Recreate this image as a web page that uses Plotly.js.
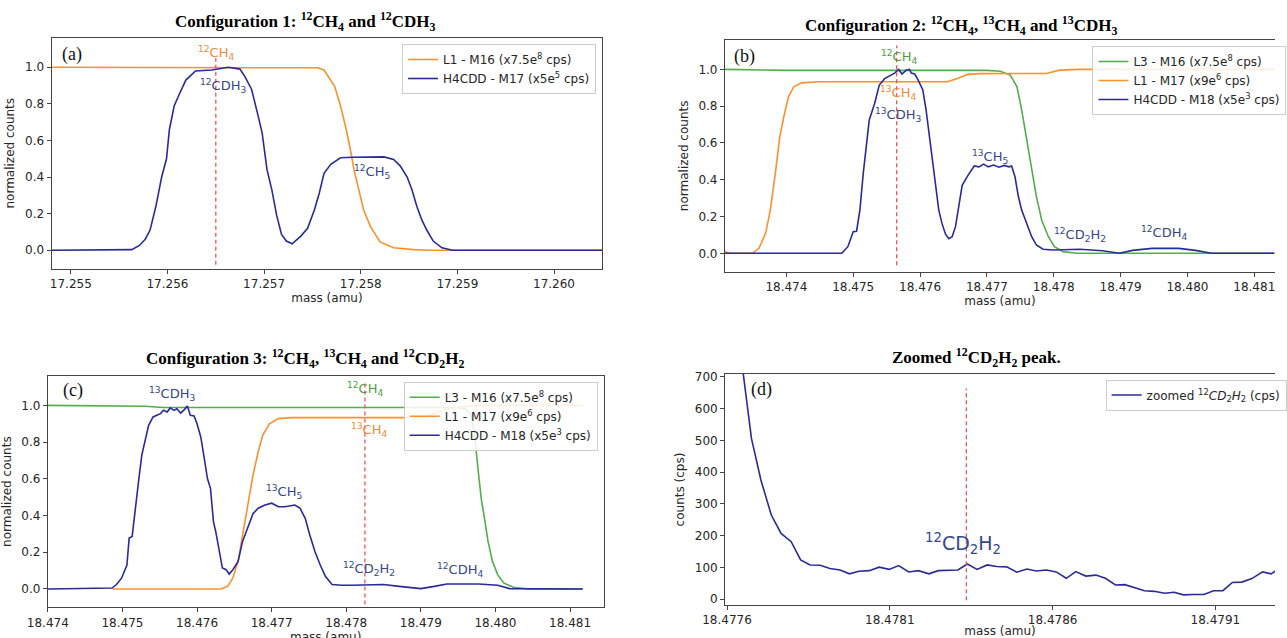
<!DOCTYPE html>
<html>
<head>
<meta charset="utf-8">
<script src="https://cdn.plot.ly/plotly-3.0.1.min.js"></script>
<style>html,body{margin:0;padding:0;background:#fff;}#chart{width:1287px;height:638px;}</style>
</head>
<body>
<div id="chart"></div>
<script>
// ---------- Panel (a): Configuration 1 ----------
const a_mass_L1 = [17.2548, 17.2575, 17.25755, 17.25762, 17.25768, 17.25773, 17.25779, 17.25785, 17.2579, 17.25793, 17.25798, 17.25803, 17.2581, 17.2582, 17.25834, 17.25855, 17.2587, 17.2605];
const a_L1 = [1.0, 1.0, 0.997, 0.985, 0.94, 0.896, 0.79, 0.66, 0.53, 0.44, 0.33, 0.22, 0.13, 0.045, 0.013, 0.003, 0.0, 0.0];
const a_mass_H4 = [17.2548, 17.2555, 17.25563, 17.25571, 17.25577, 17.25582, 17.25588, 17.25594, 17.25599, 17.25602, 17.25607, 17.25612, 17.25619, 17.25629, 17.25646, 17.25663, 17.25675, 17.2568, 17.25687, 17.25694, 17.25698, 17.25703, 17.25708, 17.25713, 17.25718, 17.25723, 17.25729, 17.25738, 17.25745, 17.25752, 17.25757, 17.25762, 17.25769, 17.25779, 17.25792, 17.25824, 17.25834, 17.25841, 17.25848, 17.25853, 17.25858, 17.25863, 17.25868, 17.25875, 17.25884, 17.25895, 17.2605];
const a_H4 = [0, 0, 0.003, 0.026, 0.06, 0.11, 0.24, 0.40, 0.50, 0.66, 0.79, 0.85, 0.93, 0.98, 0.985, 1.0, 0.99, 0.95, 0.88, 0.73, 0.64, 0.44, 0.33, 0.19, 0.086, 0.05, 0.035, 0.077, 0.12, 0.22, 0.31, 0.42, 0.47, 0.505, 0.508, 0.51, 0.496, 0.46, 0.40, 0.33, 0.24, 0.168, 0.113, 0.05, 0.013, 0.0, 0.0];
const a_refMass = 17.2565;
const a_refSpan = [-0.08, 1.05];

// ---------- Panel (b): Configuration 2 ----------
const b_mass_L3 = [18.47308, 18.4736, 18.4740, 18.4770, 18.4772, 18.47735, 18.47745, 18.47752, 18.4776, 18.47767, 18.47774, 18.47782, 18.47792, 18.47801, 18.47814, 18.47834, 18.4813];
const b_L3 = [1.0, 0.997, 0.995, 0.995, 0.99, 0.969, 0.905, 0.78, 0.616, 0.453, 0.31, 0.18, 0.09, 0.036, 0.009, 0.0, 0.0];
const b_mass_L1 = [18.47308, 18.47315, 18.47349, 18.47359, 18.47369, 18.47376, 18.47384, 18.4739, 18.47396, 18.47403, 18.47411, 18.47423, 18.47448, 18.47641, 18.47656, 18.47671, 18.4769, 18.47789, 18.47809, 18.47839, 18.4813];
const b_L1 = [0.01, 0.0, 0.0, 0.027, 0.11, 0.235, 0.45, 0.63, 0.74, 0.85, 0.905, 0.927, 0.933, 0.933, 0.951, 0.973, 0.977, 0.978, 0.996, 1.0, 1.0];
const b_mass_H4 = [18.47308, 18.47483, 18.47492, 18.475, 18.47505, 18.4751, 18.47515, 18.4752, 18.47524, 18.47532, 18.47539, 18.47547, 18.47554, 18.47562, 18.47568, 18.47573, 18.47579, 18.47584, 18.47587, 18.47592, 18.47596, 18.47604, 18.47609, 18.47614, 18.47619, 18.47623, 18.47628, 18.47633, 18.47638, 18.47643, 18.47648, 18.47653, 18.47658, 18.47663, 18.47671, 18.47681, 18.47688, 18.47695, 18.47702, 18.4771, 18.47718, 18.47726, 18.47733, 18.47737, 18.47742, 18.47747, 18.47752, 18.4776, 18.47767, 18.47774, 18.47784, 18.47799, 18.47839, 18.47873, 18.47898, 18.47918, 18.47947, 18.47987, 18.48012, 18.48036, 18.4813];
const b_H4 = [0, 0, 0.036, 0.117, 0.12, 0.235, 0.435, 0.6, 0.725, 0.815, 0.915, 0.95, 0.965, 0.98, 1.0, 0.975, 0.995, 1.0, 0.98, 0.975, 0.95, 0.89, 0.78, 0.63, 0.49, 0.37, 0.235, 0.16, 0.105, 0.08, 0.09, 0.145, 0.26, 0.37, 0.42, 0.475, 0.47, 0.485, 0.47, 0.48, 0.468, 0.478, 0.47, 0.475, 0.416, 0.31, 0.235, 0.163, 0.09, 0.045, 0.022, 0.018, 0.022, 0.014, 0.0, 0.016, 0.027, 0.027, 0.016, 0.0, 0.0];
const b_refMass = 18.47565;
const b_refSpan = [-0.065, 1.13];

// ---------- Panel (c): Configuration 3 ----------
const c_mass_L3 = [18.474, 18.475, 18.4753, 18.47555, 18.4795, 18.4796, 18.47965, 18.47969, 18.47973, 18.47977, 18.47981, 18.47986, 18.4799, 18.47996, 18.48003, 18.48011, 18.48024, 18.48045, 18.48117];
const c_L3 = [1.0, 0.999, 0.995, 0.988, 0.988, 0.98, 0.96, 0.928, 0.80, 0.64, 0.49, 0.367, 0.26, 0.15, 0.078, 0.033, 0.009, 0.0, 0.0];
const c_mass_L1 = [18.47487, 18.47632, 18.47641, 18.47648, 18.47655, 18.47661, 18.47668, 18.47675, 18.47682, 18.47688, 18.47697, 18.47709, 18.47727, 18.47905, 18.47918, 18.47931, 18.47952, 18.4798, 18.48117];
const c_L1 = [0, 0, 0.014, 0.06, 0.15, 0.295, 0.44, 0.62, 0.747, 0.837, 0.90, 0.928, 0.933, 0.933, 0.955, 0.978, 0.99, 1.0, 1.0];
const c_mass_H4 = [18.474, 18.47486, 18.47492, 18.47499, 18.47506, 18.47509, 18.47513, 18.47517, 18.47522, 18.47526, 18.47531, 18.47535, 18.47541, 18.47546, 18.47551, 18.47555, 18.4756, 18.47564, 18.47569, 18.47573, 18.47578, 18.47582, 18.47587, 18.47591, 18.47596, 18.476, 18.47605, 18.47609, 18.47614, 18.47618, 18.47622, 18.47625, 18.4763, 18.47634, 18.47639, 18.47643, 18.47648, 18.47655, 18.47661, 18.47668, 18.47675, 18.47682, 18.47691, 18.477, 18.47709, 18.47718, 18.47731, 18.47738, 18.47745, 18.47751, 18.47758, 18.47765, 18.47772, 18.47781, 18.47794, 18.47808, 18.4785, 18.47871, 18.479, 18.47918, 18.47935, 18.47977, 18.48003, 18.48019, 18.48117];
const c_H4 = [0, 0.005, 0.024, 0.06, 0.13, 0.277, 0.286, 0.44, 0.60, 0.73, 0.82, 0.89, 0.937, 0.946, 0.955, 0.973, 0.964, 0.986, 0.973, 0.982, 0.958, 0.973, 0.996, 0.946, 0.942, 0.90, 0.828, 0.729, 0.60, 0.548, 0.367, 0.313, 0.204, 0.114, 0.105, 0.081, 0.105, 0.15, 0.259, 0.34, 0.41, 0.44, 0.457, 0.467, 0.448, 0.448, 0.457, 0.44, 0.385, 0.295, 0.204, 0.132, 0.069, 0.024, 0.02, 0.02, 0.024, 0.014, 0.002, 0.014, 0.027, 0.027, 0.02, 0.002, 0];
const c_refMass = 18.47825;
const c_refSpan = [-0.085, 1.12];

// ---------- Panel (d): zoomed 12CD2H2 ----------
const d_mass = [18.47762, 18.477675, 18.477704, 18.477736, 18.477766, 18.477797, 18.477826, 18.477855, 18.477886, 18.477916, 18.477947, 18.477976, 18.478005, 18.478037, 18.478067, 18.478098, 18.478127, 18.478158, 18.478188, 18.47822, 18.478249, 18.478278, 18.478309, 18.478338, 18.478368, 18.478399, 18.478428, 18.478459, 18.47849, 18.478521, 18.47855, 18.478581, 18.478611, 18.478642, 18.478671, 18.478702, 18.478733, 18.478762, 18.478793, 18.478822, 18.478853, 18.478882, 18.478912, 18.478944, 18.478973, 18.479002, 18.479033, 18.479065, 18.479094, 18.479123, 18.479152, 18.479181, 18.479212, 18.479245, 18.479271, 18.4793];
const d_cps = [950, 506, 375, 265, 207, 181, 124, 108, 107, 97, 92, 80, 88, 90, 101, 94, 106, 86, 90, 80, 90, 90, 92, 111, 94, 108, 103, 102, 85, 95, 89, 92, 86, 66, 87, 73, 76, 66, 45, 46, 35, 27, 25, 19, 22, 14, 15, 15, 27, 27, 53, 54, 65, 86, 80, 100];
const d_refMass = 18.478335;
const d_refSpan = [-3, 663];

// ---------- legend labels ----------
const a_names = ['L1 - M16 (x7.5e<sup>8</sup> cps)', 'H4CDD - M17 (x5e<sup>5</sup> cps)'];
const bc_names = ['L3 - M16 (x7.5e<sup>8</sup> cps)', 'L1 - M17 (x9e<sup>6</sup> cps)', 'H4CDD - M18 (x5e<sup>3</sup> cps)'];
const d_name = 'zoomed <sup>12</sup><i>CD</i><sub>2</sub><i>H</i><sub>2</sub> (cps)';

// ---------- styling ----------
const ORANGE = '#f8922e', BLUE = '#2a2a9a', GREEN = '#52ad4c', RED = '#f05555';
const TXT_BLUE = '#34478a', TXT_OR = '#f08a3a', TXT_GR = '#4f9e42';
const W = 1287, H = 638;
const px = v => v / W, py = v => 1 - v / H;

function line(x, y, color, name, xa, ya, leg) {
  return {type: 'scatter', mode: 'lines', x: x, y: y, name: name, xaxis: xa, yaxis: ya,
          legend: leg, line: {color: color, width: 1.6}, hoverinfo: 'skip'};
}
const traces = [
  line(a_mass_L1, a_L1, ORANGE, a_names[0], 'x', 'y', 'legend'),
  line(a_mass_H4, a_H4, BLUE, a_names[1], 'x', 'y', 'legend'),
  line(b_mass_L3, b_L3, GREEN, bc_names[0], 'x2', 'y2', 'legend2'),
  line(b_mass_L1, b_L1, ORANGE, bc_names[1], 'x2', 'y2', 'legend2'),
  line(b_mass_H4, b_H4, BLUE, bc_names[2], 'x2', 'y2', 'legend2'),
  line(c_mass_L3, c_L3, GREEN, bc_names[0], 'x3', 'y3', 'legend3'),
  line(c_mass_L1, c_L1, ORANGE, bc_names[1], 'x3', 'y3', 'legend3'),
  line(c_mass_H4, c_H4, BLUE, bc_names[2], 'x3', 'y3', 'legend3'),
  line(d_mass, d_cps, BLUE, d_name, 'x4', 'y4', 'legend4')
];

const FONT = 'DejaVu Sans';
const axBase = {showline: true, linecolor: '#444', linewidth: 1, ticks: 'outside', ticklen: 4,
  tickwidth: 1, tickcolor: '#444', showgrid: false, zeroline: false, automargin: false,
  tickfont: {family: FONT, size: 12, color: '#262626'}};
const AXT_FONT = {family: FONT, size: 12, color: '#262626'};
function xTitle(s) { return {text: 'mass (amu)', font: AXT_FONT, standoff: s}; }
function yTitle(t) { return {text: t, font: AXT_FONT, standoff: 7}; }

function legendAt(x, y, xanchor) {
  return {x: x, y: y, xanchor: xanchor, yanchor: 'top', bgcolor: 'rgba(255,255,255,0.85)',
          bordercolor: '#cccccc', borderwidth: 1, font: {family: FONT, size: 12, color: '#262626'},
          tracegroupgap: 0, itemwidth: 30};
}

function refLine(xa, ya, m, span) {
  return {type: 'line', xref: xa, yref: ya, x0: m, x1: m, y0: span[0], y1: span[1],
          line: {color: RED, width: 1.3, dash: '4px,3px'}};
}

function lab(xa, ya, x, y, text, color, size) {
  return {xref: xa, yref: ya, x: x, y: y, text: text, showarrow: false,
          font: {family: FONT, size: size || 13, color: color}};
}
function paperText(x, y, text, font, yanchor) {
  return {xref: 'paper', yref: 'paper', x: px(x), y: py(y), text: text, showarrow: false,
          xanchor: 'center', yanchor: yanchor || 'middle', font: font};
}
const TITLE_FONT = {family: 'Liberation Serif', size: 17, color: '#000'};
const PANEL_FONT = {family: 'Liberation Serif', size: 18, color: '#111'};

const annotations = [
  paperText(308, 21.7, '<b>Configuration 1: <sup>12</sup>CH<sub>4</sub> and <sup>12</sup>CDH<sub>3</sub></b>', TITLE_FONT),
  paperText(970, 25, '<b>Configuration 2: <sup>12</sup>CH<sub>4</sub>, <sup>13</sup>CH<sub>4</sub> and <sup>13</sup>CDH<sub>3</sub></b>', TITLE_FONT),
  paperText(308, 358, '<b>Configuration 3: <sup>12</sup>CH<sub>4</sub>, <sup>13</sup>CH<sub>4</sub> and <sup>12</sup>CD<sub>2</sub>H<sub>2</sub></b>', TITLE_FONT),
  paperText(986, 357.3, '<b>Zoomed <sup>12</sup>CD<sub>2</sub>H<sub>2</sub> peak.</b>', TITLE_FONT),
  paperText(73, 54, '(a)', PANEL_FONT),
  paperText(752, 56, '(b)', PANEL_FONT),
  paperText(73.3, 390, '(c)', PANEL_FONT),
  paperText(769, 389, '(d)', PANEL_FONT),
  // x-axis title of panel (c), sitting at the bottom edge as in the reference
  paperText(329, 627.5, 'mass (amu)', AXT_FONT, 'top'),
  // panel a labels
  lab('x', 'y', 17.2565, 1.08, '<sup>12</sup>CH<sub>4</sub>', TXT_OR),
  lab('x', 'y', 17.25657, 0.896, '<sup>12</sup>CDH<sub>3</sub>', TXT_BLUE),
  lab('x', 'y', 17.25812, 0.43, '<sup>12</sup>CH<sub>5</sub>', TXT_BLUE),
  // panel b labels
  lab('x2', 'y2', 18.47569, 1.07, '<sup>12</sup>CH<sub>4</sub>', TXT_GR),
  lab('x2', 'y2', 18.47567, 0.87, '<sup>13</sup>CH<sub>4</sub>', TXT_OR),
  lab('x2', 'y2', 18.47567, 0.75, '<sup>13</sup>CDH<sub>3</sub>', TXT_BLUE),
  lab('x2', 'y2', 18.47704, 0.525, '<sup>13</sup>CH<sub>5</sub>', TXT_BLUE),
  lab('x2', 'y2', 18.47839, 0.10, '<sup>12</sup>CD<sub>2</sub>H<sub>2</sub>', TXT_BLUE),
  lab('x2', 'y2', 18.47965, 0.109, '<sup>12</sup>CDH<sub>4</sub>', TXT_BLUE),
  // panel c labels
  lab('x3', 'y3', 18.47567, 1.063, '<sup>13</sup>CDH<sub>3</sub>', TXT_BLUE),
  lab('x3', 'y3', 18.47716, 0.53, '<sup>13</sup>CH<sub>5</sub>', TXT_BLUE),
  lab('x3', 'y3', 18.47825, 1.09, '<sup>12</sup>CH<sub>4</sub>', TXT_GR),
  lab('x3', 'y3', 18.4783, 0.864, '<sup>13</sup>CH<sub>4</sub>', TXT_OR),
  lab('x3', 'y3', 18.4783, 0.106, '<sup>12</sup>CD<sub>2</sub>H<sub>2</sub>', TXT_BLUE),
  lab('x3', 'y3', 18.47953, 0.105, '<sup>12</sup>CDH<sub>4</sub>', TXT_BLUE),
  // panel d label
  lab('x4', 'y4', 18.478324, 176, '<sup>12</sup>CD<sub>2</sub>H<sub>2</sub>', TXT_BLUE, 19)
];

const layout = {
  width: W, height: H, margin: {l: 0, r: 0, t: 0, b: 0},
  paper_bgcolor: '#fff', plot_bgcolor: '#fff', showlegend: true,
  font: {family: FONT, size: 12, color: '#262626'},
  xaxis: Object.assign({}, axBase, {domain: [px(52), px(608)], range: [17.2548, 17.2605], tick0: 17.255, dtick: 0.001, tickformat: '.3f', anchor: 'y', mirror: true, title: xTitle(3)}),
  yaxis: Object.assign({}, axBase, {domain: [py(268.5), py(38)], range: [-0.1, 1.16], tick0: 0, dtick: 0.2, tickformat: '.1f', anchor: 'x', mirror: true, title: yTitle('normalized counts')}),
  xaxis2: Object.assign({}, axBase, {domain: [px(731.7), 1], range: [18.47308, 18.48131], tick0: 18.474, dtick: 0.001, tickformat: '.3f', anchor: 'y2', mirror: true, title: xTitle(3)}),
  yaxis2: Object.assign({}, axBase, {domain: [py(271.7), py(40)], range: [-0.1, 1.16], tick0: 0, dtick: 0.2, tickformat: '.1f', anchor: 'x2', mirror: false, title: yTitle('normalized counts')}),
  xaxis3: Object.assign({}, axBase, {domain: [px(48.3), px(609.3)], range: [18.474, 18.48145], tick0: 18.474, dtick: 0.001, tickformat: '.3f', anchor: 'y3', mirror: true}),
  yaxis3: Object.assign({}, axBase, {domain: [py(607.3), py(376)], range: [-0.1, 1.16], tick0: 0, dtick: 0.2, tickformat: '.1f', anchor: 'x3', mirror: true, title: yTitle('normalized counts')}),
  xaxis4: Object.assign({}, axBase, {domain: [px(731.9), 1], range: [18.477594, 18.479283], tick0: 18.4776, dtick: 0.0005, tickformat: '.4f', anchor: 'y4', mirror: true, title: xTitle(4)}),
  yaxis4: Object.assign({}, axBase, {domain: [py(605), py(374)], range: [-18, 708.5], tick0: 0, dtick: 100, anchor: 'x4', mirror: false, title: yTitle('counts (cps)')}),
  legend: legendAt(px(601.7), py(44), 'right'),
  legend2: legendAt(px(1102.7), py(46), 'left'),
  legend3: legendAt(px(603.3), py(381.7), 'right'),
  legend4: legendAt(px(1116), py(379.5), 'left'),
  shapes: [
    refLine('x', 'y', a_refMass, a_refSpan),
    refLine('x2', 'y2', b_refMass, b_refSpan),
    refLine('x3', 'y3', c_refMass, c_refSpan),
    refLine('x4', 'y4', d_refMass, d_refSpan)
  ],
  annotations: annotations
};

Plotly.newPlot('chart', traces, layout, {staticPlot: true, displayModeBar: false});
</script>
</body>
</html>
